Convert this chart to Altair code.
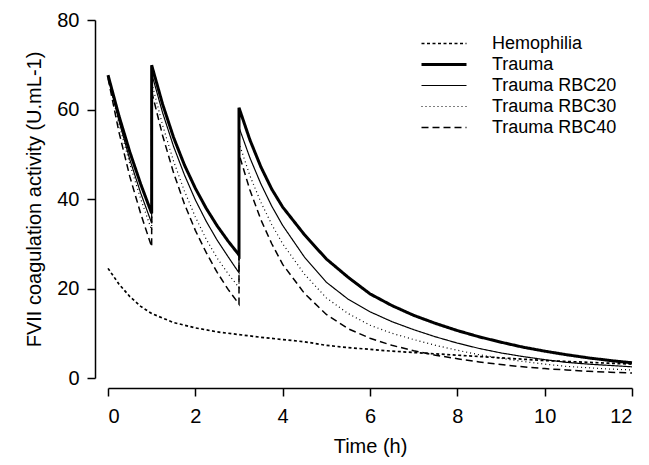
import altair as alt
import pandas as pd

# Time grid for the trauma scenarios (doses at t=1 and t=3 create jumps)
T_TRAUMA = [0, 0.25, 0.5, 0.75, 1,
            1, 1.25, 1.5, 1.75, 2, 2.25, 2.5, 2.75, 3,
            3, 3.25, 3.5, 3.75, 4, 4.5, 5, 5.5, 6, 6.5, 7, 7.5, 8, 8.5, 9, 9.5, 10, 10.5, 11, 11.5, 12]

TRAUMA = [67.7, 58.6, 50.5, 43.3, 36.8,
          69.9, 61.2, 53.8, 47.6, 42.4, 37.9, 34.0, 30.6, 27.5,
          60.4, 53.2, 47.2, 42.2, 38.2, 32.0, 26.6, 22.5, 18.8, 16.2, 14.0, 12.2, 10.6, 9.2, 8.0, 6.9, 6.0, 5.2, 4.5, 3.9, 3.4]

RBC20 = [67.5, 57.5, 48.8, 41.3, 34.6,
         68.0, 59.3, 51.8, 45.4, 39.8, 35.0, 30.8, 27.1, 23.5,
         56.0, 49.2, 43.4, 38.4, 34.1, 27.0, 21.4, 17.6, 14.8, 12.6, 10.8, 9.2, 7.8, 6.6, 5.6, 4.8, 4.1, 3.5, 3.1, 2.8, 2.5]

RBC30 = [67.3, 56.8, 47.8, 40.0, 33.0,
         66.0, 56.5, 48.5, 41.8, 36.0, 31.0, 26.8, 23.3, 20.2,
         52.5, 45.2, 39.3, 34.3, 30.0, 23.2, 17.9, 14.4, 11.8, 10.0, 8.6, 7.3, 6.2, 5.2, 4.4, 3.7, 3.1, 2.6, 2.3, 2.0, 1.8]

RBC40 = [67.0, 55.0, 45.0, 36.7, 29.3,
         64.0, 54.2, 45.9, 38.9, 33.0, 28.0, 23.6, 19.8, 16.5,
         50.0, 42.0, 35.4, 30.0, 25.4, 18.9, 14.2, 11.0, 8.9, 7.3, 6.1, 5.1, 4.3, 3.6, 3.0, 2.5, 2.1, 1.8, 1.5, 1.3, 1.1]

T_HEMO = [0, 0.25, 0.5, 0.75, 1, 1.5, 2, 2.5, 3, 3.5, 4, 4.5, 5, 5.5, 6, 6.5, 7, 7.5, 8,
          8.5, 9, 9.5, 10, 10.5, 11, 11.5, 12]
HEMO = [24.5, 21.0, 18.2, 16.0, 14.4, 12.4, 11.2, 10.3, 9.7, 9.1, 8.6, 8.1, 7.3, 6.8, 6.4,
        6.0, 5.7, 5.4, 5.1, 4.8, 4.5, 4.2, 3.9, 3.7, 3.5, 3.3, 3.1]

SERIES = ["Hemophilia", "Trauma", "Trauma RBC20", "Trauma RBC30", "Trauma RBC40"]
DASHES = [[3, 2.5], [1, 0], [1, 0], [1, 3], [7, 4]]
WIDTHS = [1.7, 3.0, 1.2, 1.2, 1.5]

rows = []
for name, times, vals in [
    ("Hemophilia", T_HEMO, HEMO),
    ("Trauma", T_TRAUMA, TRAUMA),
    ("Trauma RBC20", T_TRAUMA, RBC20),
    ("Trauma RBC30", T_TRAUMA, RBC30),
    ("Trauma RBC40", T_TRAUMA, RBC40),
]:
    for i, (t, v) in enumerate(zip(times, vals)):
        rows.append({"series": name, "t": t, "v": v, "idx": i})
df = pd.DataFrame(rows)

FONT = "Liberation Sans"

chart = alt.Chart(df).mark_line(clip=False).encode(
    x=alt.X("t:Q", scale=alt.Scale(domain=[0, 12], nice=False, zero=False),
            axis=alt.Axis(title="Time (h)", values=[0, 2, 4, 6, 8, 10, 12], offset=10,
                          labelPadding=10, titlePadding=10)),
    y=alt.Y("v:Q", scale=alt.Scale(domain=[0, 80], nice=False),
            axis=alt.Axis(title="FVII coagulation activity (U.mL-1)", values=[0, 20, 40, 60, 80],
                          offset=13, labelPadding=8, titlePadding=12)),
    order=alt.Order("idx:Q"),
    color=alt.Color("series:N", sort=SERIES,
                    scale=alt.Scale(domain=SERIES, range=["black"] * 5),
                    legend=alt.Legend(title=None)),
    strokeDash=alt.StrokeDash("series:N", sort=SERIES,
                              scale=alt.Scale(domain=SERIES, range=DASHES),
                              legend=alt.Legend(title=None)),
    strokeWidth=alt.StrokeWidth("series:N", sort=SERIES,
                                scale=alt.Scale(type="ordinal", domain=SERIES, range=WIDTHS),
                                legend=alt.Legend(title=None)),
).properties(
    width=524, height=358,
    autosize=alt.AutoSizeParams(type="none"),
    padding={"left": 100, "top": 12, "right": 9, "bottom": 79},
).configure_view(stroke=None).configure_axis(
    grid=False, domainColor="black", domainWidth=1.5, tickColor="black", tickWidth=1.5,
    tickSize=8, labelFont=FONT, labelFontSize=20, labelColor="black",
    titleFont=FONT, titleFontSize=20, titleFontWeight="normal", titleColor="black",
    labelAngle=0,
).configure_legend(
    orient="none", legendX=312, legendY=13, padding=0,
    symbolType="stroke", symbolSize=2025, labelOffset=24, clipHeight=21,
    labelFont=FONT, labelFontSize=18, labelColor="black", rowPadding=0,
    symbolStrokeColor="black",
)

chart.save("out.html", embed_options={"renderer": "svg", "actions": False})
